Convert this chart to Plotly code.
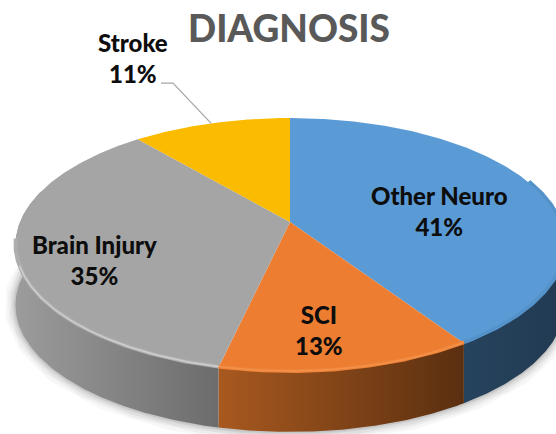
import math
import plotly.graph_objects as go

categories = ["Other Neuro", "SCI", "Brain Injury", "Stroke"]
percent = [40.8, 12.7, 35.4, 11.1]
title_text = "DIAGNOSIS"

top_colors = ["#5b9bd5", "#ed7d31", "#a5a5a5", "#fbbb00"]
soft_rim_colors = ["#5797cf", "#ee8236", "#aeaeae", "#fbbb00"]
rim_colors = ["#5390c7", "#f3924c", "#cfcfcf", "#fbbb00"]
wall_colors = [("#26435d", "#223a52"), ("#a8591f", "#5a2f10"), ("#9c9c9c", "#6c6c6c"), ("#a07800", "#a07800")]

# Projection of the pie plane onto the page, in page pixels
CX, CY, RX, RY, TILT, DEPTH = 290, 222, 270, 122.8, 0.181, 60


def project(deg):
    a = math.radians(deg)
    u, v = math.sin(a), math.cos(a)
    s = 1 / (1 + TILT * v)
    return CX + RX * u * s, CY - RY * v * s


def arc(a0, a1):
    n = max(2, int(abs(a1 - a0) * 2))
    pts = [project(a0 + (a1 - a0) * i / n) for i in range(n + 1)]
    return [p[0] for p in pts], [p[1] for p in pts]


total = sum(percent)
spans = []
acc = 0
for p in percent:
    spans.append((acc / total * 360, (acc + p) / total * 360))
    acc += p

fig = go.Figure()

# soft shadow under the disc
sx, sy = arc(95, 290)
sy = [y + DEPTH for y in sy]
for w, alpha in [(22, 0.03), (16, 0.04), (11, 0.05), (6, 0.06), (3, 0.06)]:
    fig.add_trace(go.Scatter(x=sx, y=sy, mode="lines", hoverinfo="skip",
                             line=dict(color=f"rgba(0,0,0,{alpha})", width=w)))

# side walls
for (a0, a1), (c0, c1) in zip(spans, wall_colors):
    lo, hi = max(a0, 70), min(a1, 285)
    if hi <= lo:
        continue
    x, y = arc(lo, hi)
    wx = x + x[::-1]
    wy = y + [v + DEPTH for v in y[::-1]]
    fig.add_trace(go.Scatter(
        x=wx, y=wy, mode="lines", fill="toself", hoverinfo="skip",
        line=dict(width=0, color=c0),
        fillgradient=dict(type="horizontal", colorscale=[[0, c0], [1, c1]]),
    ))

# top faces
for (a0, a1), col in zip(spans, top_colors):
    x, y = arc(a0, a1)
    fig.add_trace(go.Scatter(x=[CX] + x + [CX], y=[CY] + y + [CY], mode="lines", fill="toself",
                             fillcolor=col, hoverinfo="skip", line=dict(width=0, color=col)))

# bevel highlight along the front edge
for (a0, a1), soft, col in zip(spans, soft_rim_colors, rim_colors):
    lo, hi = max(a0, 70), min(a1, 262)
    if hi <= lo:
        continue
    x, y = arc(lo, hi)
    fig.add_trace(go.Scatter(x=x, y=[v - 1 for v in y], mode="lines", hoverinfo="skip",
                             line=dict(color=soft, width=4)))
    x, y = arc(lo, min(hi, 250))
    fig.add_trace(go.Scatter(x=x, y=[v - 1 for v in y], mode="lines", hoverinfo="skip",
                             line=dict(color=col, width=1.5)))

# leader line for the outside label
ex, ey = project((spans[3][0] + spans[3][1]) / 2)
fig.add_trace(go.Scatter(x=[161, 173, ex], y=[83, 83, ey], mode="lines", hoverinfo="skip",
                         line=dict(color="#a6a6a6", width=1.25)))

FONT = "Lato, Carlito, sans-serif"
label_pos = [(439, 211), (319, 330), (94, 260), (133, 58)]
annotations = [dict(x=px, y=py, xref="x", yref="y", showarrow=False, align="center",
                    text=f"{c}<br>{round(p)}%",
                    font=dict(family=FONT, size=24, color="#0d0d0d", weight=900))
               for c, p, (px, py) in zip(categories, percent, label_pos)]
annotations.append(dict(x=289, y=27, xref="x", yref="y", showarrow=False,
                        text=title_text,
                        font=dict(family=FONT, size=37, color="#595959", weight=900)))

fig.update_layout(
    width=556, height=434, margin=dict(l=0, r=0, t=0, b=0), showlegend=False,
    paper_bgcolor="white", plot_bgcolor="white", annotations=annotations,
    xaxis=dict(range=[0, 556], visible=False, fixedrange=True),
    yaxis=dict(range=[434, 0], visible=False, fixedrange=True),
)
fig.write_html("out.html", config={"displayModeBar": False},
               post_script="document.body.style.margin='0';document.body.style.overflow='hidden';")
